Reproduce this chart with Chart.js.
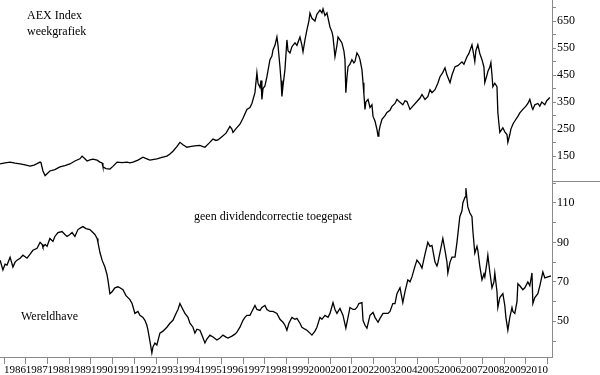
<!DOCTYPE html>
<html>
<head>
<meta charset="utf-8">
<script src="https://cdn.jsdelivr.net/npm/chart.js@4"></script>
<style>
html,body{margin:0;padding:0;background:#fff;}
#wrap{width:600px;height:375px;position:relative;}
</style>
</head>
<body>
<div id="wrap"><canvas id="c" width="600" height="375"></canvas></div>
<script>
// ---- Data ----
const yearTicks = [1986,1987,1988,1989,1990,1991,1992,1993,1994,1995,1996,1997,1998,1999,2000,2001,2002,2003,2004,2005,2006,2007,2008,2009,2010,2011];
const yearLabels = ['1986','1987','1988','1989','1990','1991','1992','1993','1994','1995','1996','1997','1998','1999','2000','2001','2002','2003','2004','2005','2006','2007','2008','2009','2010',''];

const aexTicks = [100,150,200,250,300,350,400,450,500,550,600,650,700];
const aexLabels = [150,250,350,450,550,650];
const whTicks = [40,50,60,70,80,90,100,110,120];
const whLabels = [50,70,90,110];

const aexYears = [1985.82,1986.05,1986.28,1986.51,1986.74,1986.97,1987.20,1987.38,1987.52,1987.66,1987.70,1987.79,1987.89,1987.98,1988.11,1988.34,1988.57,1988.80,1989.03,1989.26,1989.49,1989.59,1989.72,1989.82,1989.95,1990.09,1990.28,1990.41,1990.51,1990.55,1990.69,1990.87,1991.01,1991.20,1991.43,1991.66,1991.79,1991.93,1992.16,1992.39,1992.57,1992.71,1992.90,1993.03,1993.26,1993.49,1993.63,1993.77,1993.95,1994.09,1994.23,1994.41,1994.55,1994.69,1994.87,1995.01,1995.15,1995.24,1995.43,1995.61,1995.75,1995.84,1996.02,1996.21,1996.39,1996.48,1996.53,1996.67,1996.85,1996.99,1997.17,1997.31,1997.40,1997.54,1997.63,1997.68,1997.77,1997.82,1997.86,1997.91,1998.00,1998.09,1998.23,1998.32,1998.37,1998.46,1998.55,1998.60,1998.69,1998.74,1998.78,1998.83,1998.92,1999.01,1999.06,1999.15,1999.24,1999.38,1999.47,1999.61,1999.70,1999.75,1999.84,1999.93,2000.02,2000.07,2000.16,2000.30,2000.39,2000.53,2000.62,2000.67,2000.76,2000.85,2000.99,2001.08,2001.13,2001.22,2001.31,2001.36,2001.45,2001.54,2001.63,2001.68,2001.72,2001.77,2001.82,2001.91,2002.00,2002.09,2002.14,2002.23,2002.32,2002.37,2002.46,2002.51,2002.55,2002.60,2002.64,2002.74,2002.83,2002.92,2002.97,2003.06,2003.15,2003.20,2003.24,2003.29,2003.38,2003.52,2003.61,2003.75,2003.84,2003.98,2004.07,2004.21,2004.34,2004.44,2004.53,2004.67,2004.80,2004.99,2005.13,2005.22,2005.36,2005.49,2005.59,2005.68,2005.82,2005.95,2006.05,2006.18,2006.28,2006.37,2006.51,2006.60,2006.74,2006.87,2007.06,2007.15,2007.29,2007.38,2007.52,2007.61,2007.65,2007.70,2007.79,2007.88,2007.98,2008.07,2008.11,2008.21,2008.25,2008.34,2008.39,2008.44,2008.48,2008.57,2008.67,2008.71,2008.76,2008.80,2008.90,2008.94,2009.03,2009.13,2009.17,2009.26,2009.31,2009.40,2009.49,2009.63,2009.72,2009.86,2010.00,2010.09,2010.18,2010.28,2010.32,2010.41,2010.55,2010.64,2010.73,2010.87,2010.96,2011.10];
const aexValues = [121,125,128,124,121,118,113,117,122,128,126,95,78,85,95,100,110,115,121,132,140,150,140,132,136,139,135,128,125,110,104,102,112,128,126,128,125,128,135,146,140,135,138,140,145,150,158,168,185,201,192,183,185,187,189,190,185,183,198,213,208,210,222,235,260,250,238,252,268,290,323,330,345,385,459,420,404,430,360,400,410,444,507,520,543,560,591,560,481,430,371,410,470,580,540,532,555,569,560,591,560,536,580,617,650,679,660,650,675,690,680,695,670,680,628,610,591,518,560,591,580,569,540,507,385,440,481,490,507,495,500,532,520,507,470,422,380,323,350,360,330,340,297,280,249,224,240,260,286,300,312,320,334,345,360,349,340,355,352,323,335,352,365,378,360,370,396,385,396,420,444,460,477,450,422,450,481,485,499,490,518,530,562,520,500,540,562,530,507,480,422,450,463,480,496,450,407,420,407,312,270,238,250,255,240,230,201,230,250,268,280,297,310,323,335,345,360,330,323,340,345,335,350,340,355,367];

const whYears = [1985.82,1985.95,1986.05,1986.14,1986.28,1986.41,1986.51,1986.60,1986.74,1986.87,1987.06,1987.20,1987.33,1987.52,1987.66,1987.75,1987.79,1987.89,1987.98,1988.11,1988.25,1988.34,1988.48,1988.67,1988.80,1988.90,1989.03,1989.13,1989.26,1989.40,1989.54,1989.63,1989.77,1989.95,1990.09,1990.18,1990.28,1990.32,1990.41,1990.51,1990.64,1990.73,1990.78,1990.87,1990.97,1991.10,1991.24,1991.33,1991.47,1991.61,1991.70,1991.79,1991.89,1992.02,1992.16,1992.25,1992.39,1992.48,1992.57,1992.62,1992.71,1992.80,1992.85,1992.94,1993.03,1993.17,1993.31,1993.49,1993.63,1993.77,1993.91,1994.00,1994.09,1994.18,1994.32,1994.46,1994.55,1994.69,1994.78,1994.87,1995.01,1995.10,1995.24,1995.33,1995.47,1995.61,1995.79,1995.93,1996.07,1996.21,1996.30,1996.48,1996.62,1996.71,1996.85,1996.99,1997.08,1997.17,1997.31,1997.40,1997.54,1997.63,1997.77,1997.86,1998.00,1998.09,1998.23,1998.37,1998.55,1998.69,1998.83,1998.92,1999.01,1999.10,1999.24,1999.38,1999.47,1999.61,1999.70,1999.84,1999.93,2000.07,2000.16,2000.30,2000.39,2000.53,2000.62,2000.76,2000.90,2000.99,2001.13,2001.22,2001.31,2001.45,2001.59,2001.72,2001.82,2001.91,2002.05,2002.14,2002.23,2002.32,2002.46,2002.51,2002.60,2002.69,2002.83,2002.97,2003.06,2003.20,2003.29,2003.43,2003.52,2003.66,2003.75,2003.88,2003.98,2004.07,2004.21,2004.34,2004.44,2004.57,2004.67,2004.76,2004.90,2004.99,2005.13,2005.22,2005.36,2005.49,2005.59,2005.68,2005.77,2005.82,2005.91,2005.95,2006.05,2006.18,2006.28,2006.37,2006.41,2006.51,2006.60,2006.74,2006.83,2006.96,2007.06,2007.10,2007.20,2007.24,2007.29,2007.33,2007.42,2007.52,2007.56,2007.65,2007.75,2007.79,2007.88,2007.98,2008.07,2008.11,2008.21,2008.25,2008.34,2008.44,2008.53,2008.57,2008.67,2008.71,2008.80,2008.94,2009.03,2009.08,2009.17,2009.26,2009.36,2009.40,2009.49,2009.59,2009.63,2009.72,2009.86,2009.95,2010.09,2010.18,2010.28,2010.32,2010.41,2010.55,2010.64,2010.78,2010.87,2011.01,2011.15];
const whValues = [81,76,79,78.5,82.5,77.5,80,81,82,83.5,82,84,86,87,90,89,87.6,89,88,92,90.5,93,95,95.5,94,93,94,95,93,96.5,97.5,98,97,96.5,95,94,92,90,85,81,77.5,74,71,64,65,67,67.5,67,66,63,62,61,59,54,55,53,52,50.5,48,45.5,40,34,37,39,38,44,45,47,49,50.5,54,56,59,57,54,52,49,47,44,46,45.5,43,39,41,43,42,40.5,41.5,43,42,41.5,42.5,43.5,44.5,47,50.5,52,53,53,55,58,56,55.5,57,58,56,55,55,54,51,49.5,48,45.5,49,52,51,51.5,49,47,46,45.5,44,43,45,47,52,51,53,52,54,59.5,56,54,56.5,53,46.5,52,57,56,56,57,59,59.5,50.5,48,46.5,53,54.5,52,49.5,51.5,54,54,54,55,59,59,64,67,59.5,65,71,70,72.5,78,81,79,77,84,90,88,88.5,83,80,78,79.5,85,92,86,80,74.5,80,82.5,82.5,90,103,106,110,113,117.5,112,108,105,103,96,84.5,88,86,78,71,74,72.5,80,83.5,75,67,70,74.5,65,57,62,64,58,52,45.5,52,57,55,54,60,69,68,66,67,70,68,74.5,59,62,64,68,75,72,72.5,73];

const annotations = [
  {text:'AEX Index', x:27, y:18.5},
  {text:'weekgrafiek', x:27, y:34.5},
  {text:'geen dividendcorrectie toegepast', x:194, y:219.5},
  {text:'Wereldhave', x:21, y:319.5}
];

// ---- Build chart ----
const serif = '"Liberation Serif", "Times New Roman", serif';
const axisColor = '#8a8a8a';
const toPoints = (xs, ys) => xs.map((x, i) => ({x: x, y: ys[i]}));

const annotPlugin = {
  id: 'annot',
  afterDraw(chart) {
    const ctx = chart.ctx;
    ctx.save();
    ctx.fillStyle = '#000';
    ctx.font = '12px ' + serif;
    ctx.textBaseline = 'alphabetic';
    ctx.textAlign = 'left';
    annotations.forEach(a => ctx.fillText(a.text, a.x, a.y));
    // divider between the two panels in the axis area
    const yb = chart.scales.yBot;
    ctx.strokeStyle = axisColor;
    ctx.lineWidth = 1;
    ctx.beginPath();
    ctx.moveTo(chart.chartArea.right, Math.round(yb.top) + 0.5);
    ctx.lineTo(chart.width, Math.round(yb.top) + 0.5);
    ctx.stroke();
    ctx.restore();
  }
};

function yAxis(min, max, ticks, labels, weight) {
  return {
    type: 'linear', position: 'right', stack: 'panels', stackWeight: weight,
    min: min, max: max,
    afterBuildTicks: s => { s.ticks = ticks.map(v => ({value: v})); },
    afterFit: s => { s.width = 48; s.paddingTop = 0; s.paddingBottom = 0; },
    border: {display: true, color: axisColor, width: 1},
    grid: {drawOnChartArea: false, drawTicks: true, tickLength: 4, color: axisColor},
    ticks: {
      color: '#000', padding: 1, autoSkip: false, font: {family: serif, size: 12},
      callback: v => labels.includes(v) ? String(v) : ''
    }
  };
}

new Chart(document.getElementById('c'), {
  type: 'line',
  data: {
    datasets: [
      {label: 'AEX Index', data: toPoints(aexYears, aexValues), yAxisID: 'yTop', xAxisID: 'x',
       borderColor: '#000', borderWidth: 1.3, pointRadius: 0, tension: 0, fill: false},
      {label: 'Wereldhave', data: toPoints(whYears, whValues), yAxisID: 'yBot', xAxisID: 'x',
       borderColor: '#000', borderWidth: 1.3, pointRadius: 0, tension: 0, fill: false}
    ]
  },
  options: {
    responsive: false, animation: false, devicePixelRatio: 1,
    layout: {padding: 0},
    plugins: {legend: {display: false}, tooltip: {enabled: false}, title: {display: false}},
    scales: {
      x: {
        type: 'linear', position: 'bottom', min: 1985.816, max: 2011.2,
        afterBuildTicks: s => { s.ticks = yearTicks.map(v => ({value: v})); },
        afterFit: s => { s.height = 18; s.paddingLeft = 0; s.paddingRight = 0; },
        border: {display: true, color: axisColor, width: 1},
        grid: {drawOnChartArea: false, drawTicks: true, tickLength: 7, color: axisColor},
        ticks: {
          align: 'start', autoSkip: false, maxRotation: 0, minRotation: 0, padding: 0,
          color: '#000', font: {family: serif, size: 11},
          callback: v => { const i = yearTicks.indexOf(v); return i >= 0 ? yearLabels[i] : ''; }
        }
      },
      yTop: yAxis(58.5, 727.8, aexTicks, aexLabels, 180.7),
      yBot: yAxis(31.9, 121.2, whTicks, whLabels, 176)
    }
  },
  plugins: [annotPlugin]
});
</script>
</body>
</html>
